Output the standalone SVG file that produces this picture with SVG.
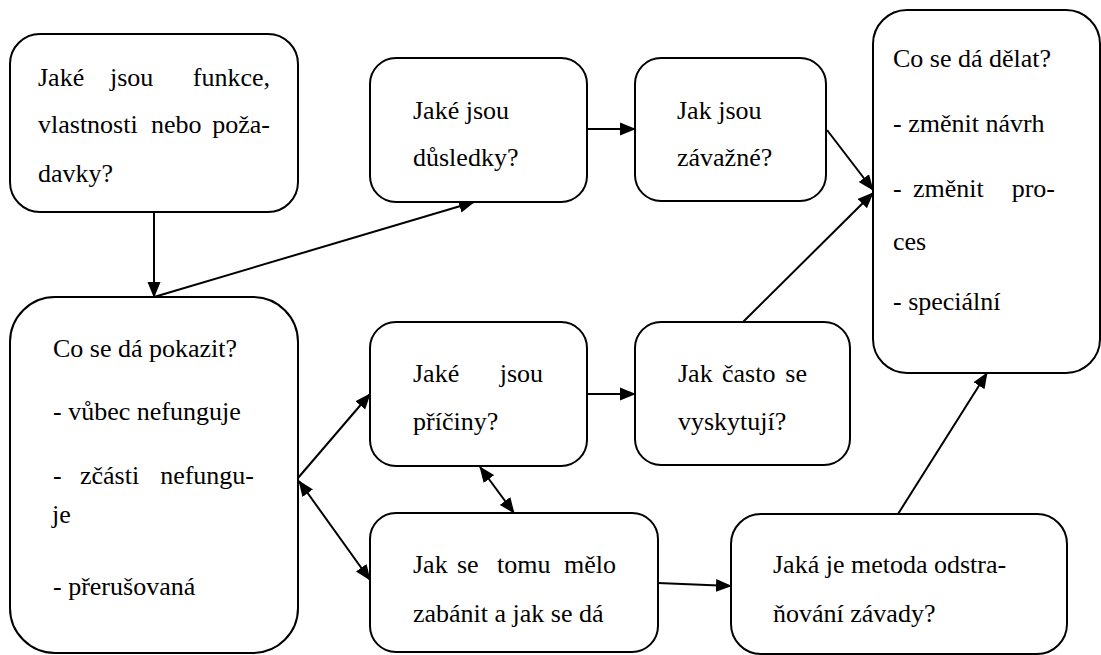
<svg xmlns="http://www.w3.org/2000/svg" width="1101" height="655" viewBox="0 0 1101 655">
<defs>
<marker id="ah" markerUnits="userSpaceOnUse" markerWidth="16" markerHeight="14" refX="15" refY="6.5" orient="auto-start-reverse" viewBox="0 0 16 13">
<path d="M0,0 L16,6.5 L0,13 z" fill="#000"/>
</marker>
</defs>
<rect width="1101" height="655" fill="#fff"/>
<g id="connectors" stroke="#000" stroke-width="2" fill="none">
<line x1="154" y1="212" x2="154" y2="297" marker-end="url(#ah)"/>
<line x1="154" y1="297" x2="474" y2="202" marker-end="url(#ah)"/>
<line x1="587" y1="129" x2="635" y2="129" marker-end="url(#ah)"/>
<line x1="827" y1="130" x2="873" y2="190" marker-end="url(#ah)"/>
<line x1="743" y1="322" x2="873" y2="193" marker-end="url(#ah)"/>
<line x1="587" y1="394" x2="635" y2="394" marker-end="url(#ah)"/>
<line x1="298" y1="478" x2="370" y2="394" marker-end="url(#ah)"/>
<line x1="299" y1="481" x2="370" y2="580" marker-start="url(#ah)" marker-end="url(#ah)"/>
<line x1="480" y1="467" x2="514" y2="513" marker-start="url(#ah)" marker-end="url(#ah)"/>
<line x1="658" y1="583" x2="731" y2="586" marker-end="url(#ah)"/>
<line x1="898" y1="514" x2="987" y2="373" marker-end="url(#ah)"/>
</g>
<g id="n1">
<rect x="10" y="34" width="288" height="178" rx="30" fill="#fff" stroke="#000" stroke-width="2"/>
<text style="font-family:'Liberation Serif',serif;font-size:26px" x="38" y="86">Jaké</text>
<text style="font-family:'Liberation Serif',serif;font-size:26px" x="110" y="86">jsou</text>
<text style="font-family:'Liberation Serif',serif;font-size:26px" text-anchor="end" x="270" y="86">funkce,</text>
<text style="font-family:'Liberation Serif',serif;font-size:26px" x="38" y="133">vlastnosti</text>
<text style="font-family:'Liberation Serif',serif;font-size:26px" x="151" y="133">nebo</text>
<text style="font-family:'Liberation Serif',serif;font-size:26px" text-anchor="end" x="270" y="133">poža-</text>
<text style="font-family:'Liberation Serif',serif;font-size:26px" x="38" y="182">davky?</text>
</g>
<g id="n2">
<rect x="10" y="297" width="288" height="356" rx="45" fill="#fff" stroke="#000" stroke-width="2"/>
<text style="font-family:'Liberation Serif',serif;font-size:26px" x="53" y="357">Co se dá pokazit?</text>
<text style="font-family:'Liberation Serif',serif;font-size:26px" x="53" y="420">- vůbec nefunguje</text>
<text style="font-family:'Liberation Serif',serif;font-size:26px" x="53" y="484">-</text>
<text style="font-family:'Liberation Serif',serif;font-size:26px" x="80" y="484">zčásti</text>
<text style="font-family:'Liberation Serif',serif;font-size:26px" text-anchor="end" x="254" y="484">nefungu-</text>
<text style="font-family:'Liberation Serif',serif;font-size:26px" x="52" y="523">je</text>
<text style="font-family:'Liberation Serif',serif;font-size:26px" x="53" y="595">- přerušovaná</text>
</g>
<g id="n3">
<rect x="370" y="58" width="217" height="144" rx="26" fill="#fff" stroke="#000" stroke-width="2"/>
<text style="font-family:'Liberation Serif',serif;font-size:26px" x="413" y="119">Jaké jsou</text>
<text style="font-family:'Liberation Serif',serif;font-size:26px" x="413" y="166">důsledky?</text>
</g>
<g id="n4">
<rect x="635" y="58" width="191" height="143" rx="26" fill="#fff" stroke="#000" stroke-width="2"/>
<text style="font-family:'Liberation Serif',serif;font-size:26px" x="677" y="119">Jak jsou</text>
<text style="font-family:'Liberation Serif',serif;font-size:26px" x="677" y="166">závažné?</text>
</g>
<g id="n5">
<rect x="873" y="10" width="227" height="363" rx="34" fill="#fff" stroke="#000" stroke-width="2"/>
<text style="font-family:'Liberation Serif',serif;font-size:26px" x="893" y="67">Co se dá dělat?</text>
<text style="font-family:'Liberation Serif',serif;font-size:26px" x="893" y="132">- změnit návrh</text>
<text style="font-family:'Liberation Serif',serif;font-size:26px" x="893" y="197">-</text>
<text style="font-family:'Liberation Serif',serif;font-size:26px" x="913" y="197">změnit</text>
<text style="font-family:'Liberation Serif',serif;font-size:26px" text-anchor="end" x="1055" y="197">pro-</text>
<text style="font-family:'Liberation Serif',serif;font-size:26px" x="893" y="250">ces</text>
<text style="font-family:'Liberation Serif',serif;font-size:26px" x="893" y="310">- speciální</text>
</g>
<g id="n6">
<rect x="370" y="322" width="217" height="144" rx="26" fill="#fff" stroke="#000" stroke-width="2"/>
<text style="font-family:'Liberation Serif',serif;font-size:26px" x="413" y="382">Jaké</text>
<text style="font-family:'Liberation Serif',serif;font-size:26px" text-anchor="end" x="543" y="382">jsou</text>
<text style="font-family:'Liberation Serif',serif;font-size:26px" x="413" y="430">příčiny?</text>
</g>
<g id="n7">
<rect x="635" y="322" width="215" height="143" rx="26" fill="#fff" stroke="#000" stroke-width="2"/>
<text style="font-family:'Liberation Serif',serif;font-size:26px" x="678" y="382">Jak</text>
<text style="font-family:'Liberation Serif',serif;font-size:26px" x="722" y="382">často</text>
<text style="font-family:'Liberation Serif',serif;font-size:26px" text-anchor="end" x="807" y="382">se</text>
<text style="font-family:'Liberation Serif',serif;font-size:26px" x="678" y="430">vyskytují?</text>
</g>
<g id="n8">
<rect x="370" y="513" width="288" height="139" rx="26" fill="#fff" stroke="#000" stroke-width="2"/>
<text style="font-family:'Liberation Serif',serif;font-size:26px" x="413" y="573">Jak</text>
<text style="font-family:'Liberation Serif',serif;font-size:26px" x="457" y="573">se</text>
<text style="font-family:'Liberation Serif',serif;font-size:26px" x="497" y="573">tomu</text>
<text style="font-family:'Liberation Serif',serif;font-size:26px" text-anchor="end" x="616" y="573">mělo</text>
<text style="font-family:'Liberation Serif',serif;font-size:26px" x="413" y="622">zabánit a jak se dá</text>
</g>
<g id="n9">
<rect x="731" y="514" width="336" height="140" rx="30" fill="#fff" stroke="#000" stroke-width="2"/>
<text style="font-family:'Liberation Serif',serif;font-size:26px" x="773" y="573">Jaká je metoda odstra-</text>
<text style="font-family:'Liberation Serif',serif;font-size:26px" x="773" y="622">ňování závady?</text>
</g>
</svg>
